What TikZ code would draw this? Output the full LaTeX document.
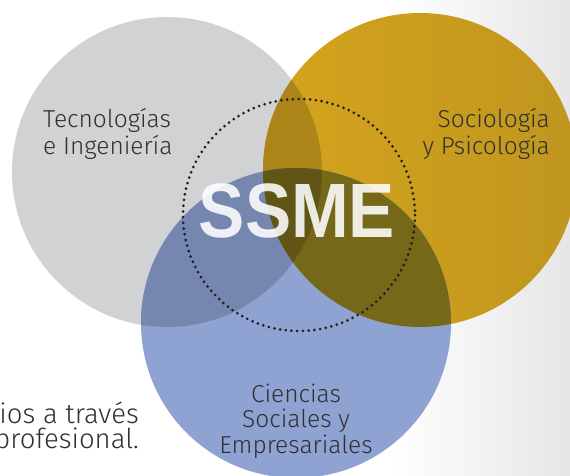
\documentclass[tikz,border=0pt]{standalone}
\usepackage{fontspec}
\newfontfamily\labfont{Fira Sans Light}
\newfontfamily\ssmefont{Liberation Sans}
\definecolor{cgray}{RGB}{209,210,212}
\definecolor{cgoldA}{RGB}{213,164,28}
\definecolor{cgoldB}{RGB}{192,150,31}
\definecolor{cblue}{RGB}{143,163,210}
\definecolor{cGY}{RGB}{172,133,25}
\definecolor{cGB}{RGB}{117,134,175}
\definecolor{cYB}{RGB}{118,104,25}
\definecolor{cGYB}{RGB}{96,85,21}
\definecolor{ctext}{RGB}{48,48,48}
\definecolor{cbg}{RGB}{230,230,230}
\begin{document}
\begin{tikzpicture}[x=1pt,y=-1pt,
  lab/.style={font=\labfont\fontsize{24.5}{27}\selectfont, text=ctext, inner sep=0pt},
  side/.style={font=\labfont\fontsize{27.5}{30}\selectfont, text=ctext, inner sep=0pt}]
\useasboundingbox (0,0) rectangle (570,475);
\clip (0,0) rectangle (570,475);
\fill[white] (0,0) rectangle (570,475);
\shade[left color=white, right color=cbg] (390,0) rectangle (570,475);
\coordinate (G) at (167,172);
\coordinate (Y) at (420,170);
\coordinate (B) at (296,323);
\coordinate (D) at (299,215);
\def\rG{155}\def\rY{157}\def\rB{155}
\fill[cgray] (G) circle[radius=\rG];
\shade[left color=cgoldA, right color=cgoldB] (Y) circle[radius=\rY];
\fill[cblue] (B) circle[radius=\rB];
\begin{scope}\clip (G) circle[radius=\rG]; \fill[cGY] (Y) circle[radius=\rY]; \end{scope}
\begin{scope}\clip (G) circle[radius=\rG]; \fill[cGB] (B) circle[radius=\rB]; \end{scope}
\begin{scope}\clip (Y) circle[radius=\rY]; \fill[cYB] (B) circle[radius=\rB]; \end{scope}
\begin{scope}\clip (G) circle[radius=\rG]; \clip (Y) circle[radius=\rY]; \fill[cGYB] (B) circle[radius=\rB]; \end{scope}
\draw[black!88, line width=3pt, line cap=round, dash pattern=on 0pt off 5.75pt] (D) circle[radius=116];
\node[anchor=base, inner sep=0pt, text=white, opacity=0.88, font=\ssmefont\bfseries\fontsize{77}{80}\selectfont] (ssme) at (297,237) {\scalebox{0.9}[1]{SSME}};
\node[lab, anchor=base west] (t1) at (43,127) {Tecnologías};
\node[lab, anchor=base west] (t2) at (43,154) {e Ingeniería};
\node[lab, anchor=base east] (s1) at (550,127) {Sociología};
\node[lab, anchor=base east] (s2) at (550,154) {y Psicología};
\node[lab, anchor=base] (c1) at (296,402) {Ciencias};
\node[lab, anchor=base] (c2) at (296,427) {Sociales y};
\node[lab, anchor=base] (c3) at (296,453) {Empresariales};
\node[side, anchor=base east] (b1) at (139,423) {ios a través};
\node[side, anchor=base east] (b2) at (139,448) {profesional.};
\end{tikzpicture}
\end{document}
